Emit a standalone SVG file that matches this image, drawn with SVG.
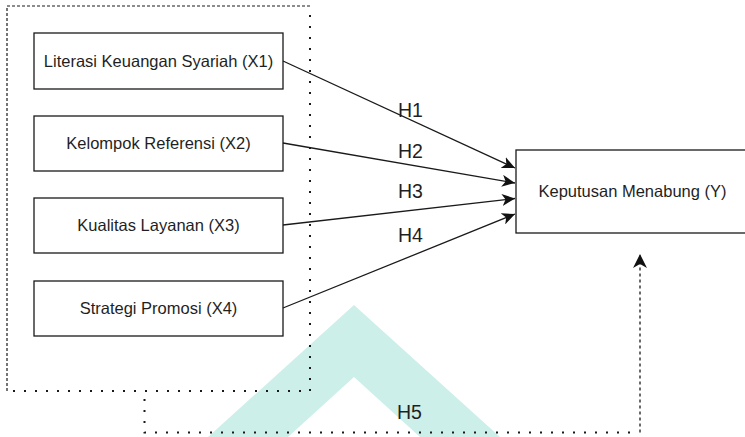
<svg xmlns="http://www.w3.org/2000/svg" width="745" height="437" viewBox="0 0 745 437">
<style>
.box{fill:#fff;stroke:#1a1a1a;stroke-width:1.3}
.lbl{font-family:"Liberation Sans",Arial,sans-serif;font-size:16.5px;fill:#1f1f1f;text-anchor:middle}
.h{font-family:"Liberation Sans",Arial,sans-serif;font-size:19.5px;fill:#1f1f1f}
.edge{fill:none;stroke:#1a1a1a;stroke-width:1.3}
.dot{fill:none;stroke:#1a1a1a;stroke-width:2;stroke-dasharray:2 9}
.dash{fill:none;stroke:#1a1a1a;stroke-width:1.2;stroke-dasharray:3 2}
.dash2{fill:none;stroke:#1a1a1a;stroke-width:1.3;stroke-dasharray:3 3}
</style>
<defs>
<marker id="arr" markerWidth="14" markerHeight="12" viewBox="0 0 14 12" refX="13" refY="6" orient="auto" markerUnits="userSpaceOnUse">
<path d="M0,0 L13,6 L0,12 L3.5,6 Z" fill="#111"/>
</marker>
<marker id="arr2" markerWidth="15" markerHeight="14" viewBox="0 0 15 14" refX="14" refY="7" orient="auto" markerUnits="userSpaceOnUse">
<path d="M0,0 L14,7 L0,14 L4,7 Z" fill="#111"/>
</marker>
</defs>
<path d="M354,305 L500,437 L420,437 L354,377 L288,437 L208,437 Z" fill="#ccefe9"/>
<g id="group-box">
<path class="dash" d="M7,391 L7,6 L310,6"/>
<path class="dot" d="M310,15 L310,391 L7,391"/>
</g>
<g id="x1"><rect class="box" x="34" y="33" width="249" height="56"/><text class="lbl" x="158.5" y="67">Literasi Keuangan Syariah (X1)</text></g>
<g id="x2"><rect class="box" x="34" y="116" width="249" height="55"/><text class="lbl" x="158.5" y="149">Kelompok Referensi (X2)</text></g>
<g id="x3"><rect class="box" x="34" y="198" width="249" height="55"/><text class="lbl" x="158.5" y="231">Kualitas Layanan (X3)</text></g>
<g id="x4"><rect class="box" x="34" y="281" width="249" height="55"/><text class="lbl" x="158.5" y="314">Strategi Promosi (X4)</text></g>
<g id="y"><rect class="box" x="516" y="150" width="233" height="83"/><text class="lbl" x="632.5" y="197">Keputusan Menabung (Y)</text></g>
<g id="connectors">
<line class="edge" x1="283" y1="61" x2="515" y2="168" marker-end="url(#arr)"/>
<line class="edge" x1="283" y1="143" x2="515" y2="183" marker-end="url(#arr)"/>
<line class="edge" x1="283" y1="225" x2="515" y2="198.5" marker-end="url(#arr)"/>
<line class="edge" x1="283" y1="308" x2="515" y2="214" marker-end="url(#arr)"/>
<path class="dot" d="M144.5,399 L144.5,432.5 L638,432.5"/>
<path class="dash2" d="M640,432.5 L640,254" marker-end="url(#arr2)"/>
<text class="h" x="398" y="117">H1</text>
<text class="h" x="398" y="158">H2</text>
<text class="h" x="398" y="198">H3</text>
<text class="h" x="398" y="242">H4</text>
<text class="h" x="397" y="419">H5</text>
</g>
</svg>
